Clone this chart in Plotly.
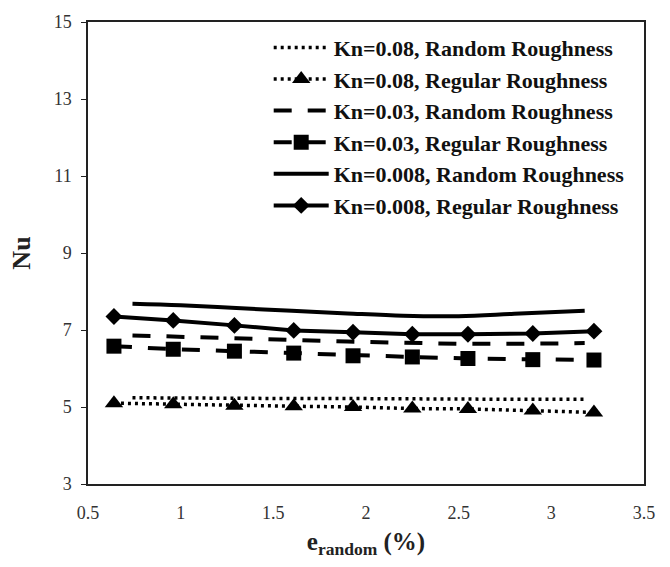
import plotly.graph_objects as go

# x positions (e_random %)
x_regular = [0.64, 0.96, 1.29, 1.61, 1.93, 2.25, 2.55, 2.90, 3.23]
x_random = [0.74, 1.00, 1.30, 1.60, 1.90, 2.20, 2.50, 2.80, 3.18]

nu_kn008_random = [5.24, 5.23, 5.23, 5.22, 5.22, 5.21, 5.21, 5.20, 5.20]
nu_kn008_regular = [5.10, 5.07, 5.03, 5.02, 5.00, 4.96, 4.95, 4.91, 4.86]
nu_kn003_random = [6.86, 6.82, 6.78, 6.74, 6.70, 6.67, 6.64, 6.64, 6.66]
nu_kn003_regular = [6.58, 6.50, 6.45, 6.40, 6.33, 6.30, 6.26, 6.23, 6.22]
nu_kn0008_random = [7.68, 7.64, 7.57, 7.50, 7.43, 7.37, 7.36, 7.42, 7.50]
nu_kn0008_regular = [7.35, 7.25, 7.12, 6.99, 6.94, 6.89, 6.89, 6.91, 6.97]

names = [
    "Kn=0.08, Random Roughness",
    "Kn=0.08, Regular Roughness",
    "Kn=0.03, Random Roughness",
    "Kn=0.03, Regular Roughness",
    "Kn=0.008, Random Roughness",
    "Kn=0.008, Regular Roughness",
]

fig = go.Figure()
BLACK = "#000000"
dot = "3px,4px"
dash = "18px,16px"

fig.add_trace(go.Scatter(x=x_random, y=nu_kn008_random, mode="lines", name=names[0], legendgroup="g1",
                         line=dict(color=BLACK, width=3.5, dash=dot)))
fig.add_trace(go.Scatter(x=x_regular, y=nu_kn008_regular, mode="lines+markers", name=names[1], legendgroup="g2",
                         line=dict(color=BLACK, width=3.5, dash=dot),
                         marker=dict(symbol="triangle-up", size=16, color=BLACK)))
fig.add_trace(go.Scatter(x=x_random, y=nu_kn003_random, mode="lines", name=names[2], legendgroup="g3",
                         line=dict(color=BLACK, width=4, dash=dash)))
fig.add_trace(go.Scatter(x=x_regular, y=nu_kn003_regular, mode="lines+markers", name=names[3], legendgroup="g4",
                         line=dict(color=BLACK, width=4, dash=dash),
                         marker=dict(symbol="square", size=15, color=BLACK)))
fig.add_trace(go.Scatter(x=x_random, y=nu_kn0008_random, mode="lines", name=names[4], legendgroup="g5",
                         line=dict(color=BLACK, width=4, shape="spline")))
fig.add_trace(go.Scatter(x=x_regular, y=nu_kn0008_regular, mode="lines+markers", name=names[5], legendgroup="g6",
                         line=dict(color=BLACK, width=4),
                         marker=dict(symbol="diamond", size=13, color=BLACK)))

axis_common = dict(showline=True, linecolor="#222222", linewidth=1.5, mirror=True,
                   showgrid=False, zeroline=False,
                   tickfont=dict(family="Liberation Serif", size=18, color="#333333"))

fig.update_xaxes(range=[0.5, 3.5], dtick=0.5, tick0=0.5, ticks="", ticklabelstandoff=12,
                 title=dict(text="<b>e<sub>random</sub> (%)</b>",
                            font=dict(family="Liberation Serif", size=25, color="#222222"),
                            standoff=10),
                 **axis_common)
fig.update_yaxes(range=[3, 15], dtick=2, tick0=3, ticks="outside", ticklen=5, tickcolor="#222222",
                 ticklabelstandoff=6,
                 title=dict(text="<b>Nu</b>",
                            font=dict(family="Liberation Serif", size=26, color="#222222"),
                            standoff=16),
                 **axis_common)

fig.update_layout(
    width=670, height=567,
    margin=dict(l=88, r=26, t=15, b=83),
    paper_bgcolor="white", plot_bgcolor="white",
    showlegend=True,
    legend=dict(x=0.325, y=0.99, xanchor="left", yanchor="top",
                bgcolor="rgba(0,0,0,0)", borderwidth=0,
                font=dict(family="Liberation Serif", size=22, color="#111111", weight="bold"),
                itemwidth=55, tracegroupgap=0),
)

fig.write_html("out.html")
